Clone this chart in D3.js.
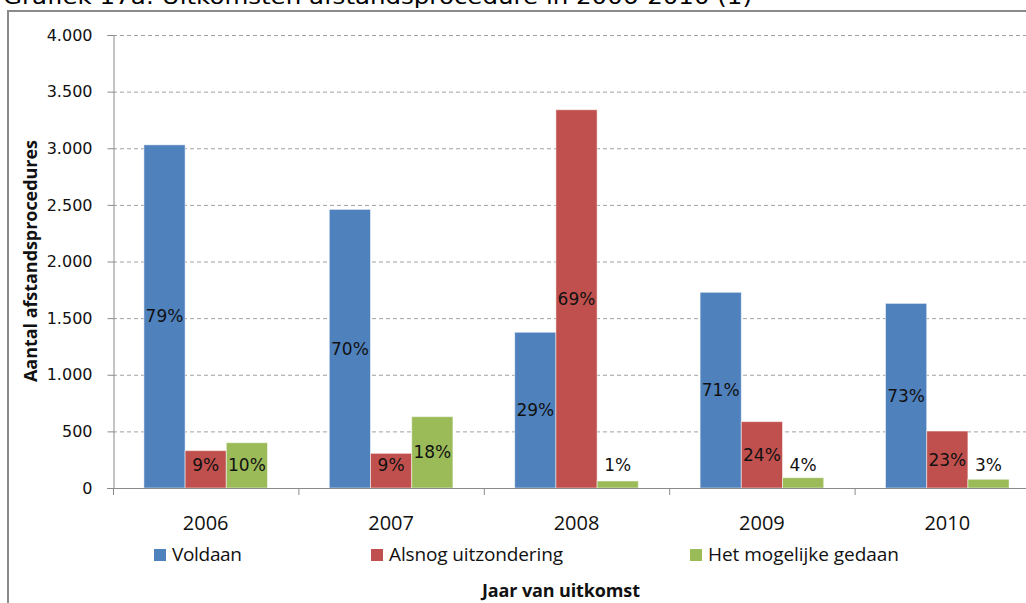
<html>
<head>
    <meta charset="utf-8">
    <title>Grafiek 17a</title>
    <script src="https://d3js.org/d3.v7.min.js"></script>
    <style>
        body{
            margin: 0;
            background: #fff;
        }
        svg{
            display: block;
        }
    </style>
</head>
<body>
    <svg></svg>
    <script>

        //chart data
        var years = ["2006", "2007", "2008", "2009", "2010"];
        var seriesNames = ["Voldaan", "Alsnog uitzondering", "Het mogelijke gedaan"];
        var voldaan = [3030, 2460, 1375, 1728, 1630];
        var alsnog = [330, 306, 3340, 586, 503];
        var mogelijk = [400, 630, 62, 91, 77];
        var pctVoldaan = ["79%", "70%", "29%", "71%", "73%"];
        var pctAlsnog = ["9%", "9%", "69%", "24%", "23%"];
        var pctMogelijk = ["10%", "18%", "1%", "4%", "3%"];
        var yTicks = [0, 500, 1000, 1500, 2000, 2500, 3000, 3500, 4000];
        var colors = ["#4F81BD", "#C0504D", "#9BBB59"];

        var values = [voldaan, alsnog, mogelijk];
        var labels = [pctVoldaan, pctAlsnog, pctMogelijk];

        //setup canvas
        var width = 1026;
        var height = 603;
        var svg = d3.select("svg").attr("width", width).attr("height", height);

        var nl = d3.formatLocale({decimal: ",", thousands: ".", grouping: [3], currency: ["€", ""]});

        //scales
        var x0 = d3.scaleBand().domain(years).range([113, 1040]).padding(0);
        var x1 = d3.scaleBand().domain(seriesNames).range([0, x0.bandwidth()]).paddingInner(0).paddingOuter(0.75);
        var y = d3.scaleLinear().domain([0, 4000]).range([488, 35]);

        //title, partly cut off at the top like in the source
        svg.append("text")
            .attr("x", 3).attr("y", 4)
            .attr("textLength", 749)
            .attr("lengthAdjust", "spacingAndGlyphs")
            .style("font-family", "DejaVu Sans")
            .style("font-size", "21px")
            .style("fill", "#000")
            .text("Grafiek 17a: Uitkomsten afstandsprocedure in 2006-2010 (1)");

        //frame
        svg.append("rect")
            .attr("x", 8).attr("y", 11)
            .attr("width", 1100).attr("height", 700)
            .style("fill", "none")
            .style("stroke", "#8a8a8a")
            .style("stroke-width", 2);

        //gridlines
        svg.append("g").selectAll("line")
            .data(yTicks.filter(function(d){ return d > 0; }))
            .enter().append("line")
            .attr("x1", 113).attr("x2", width)
            .attr("y1", function(d){ return y(d) + 0.5; })
            .attr("y2", function(d){ return y(d) + 0.5; })
            .style("stroke", "#a0a0a0")
            .style("stroke-dasharray", "4,3");

        //bars
        var groups = svg.append("g").selectAll("g")
            .data(years)
            .enter().append("g")
            .attr("transform", function(d){ return "translate(" + x0(d) + ",0)"; });

        function rows(d, i){
            return seriesNames.map(function(s, j){ return {s: s, j: j, v: values[j][i], l: labels[j][i]}; });
        }

        groups.selectAll("rect")
            .data(rows)
            .enter().append("rect")
            .attr("x", function(d){ return x1(d.s); })
            .attr("width", x1.bandwidth())
            .attr("y", function(d){ return y(d.v); })
            .attr("height", function(d){ return y(0) - y(d.v); })
            .style("fill", function(d){ return colors[d.j]; })
            .style("stroke", "rgba(255,255,255,0.5)")
            .style("stroke-width", 1);

        //data labels, centred but kept off the axis
        groups.selectAll("text")
            .data(rows)
            .enter().append("text")
            .attr("x", function(d){ return x1(d.s) + x1.bandwidth() / 2; })
            .attr("y", function(d){ return Math.min((y(d.v) + y(0)) / 2, 465); })
            .attr("text-anchor", "middle")
            .attr("dominant-baseline", "central")
            .style("font-family", "DejaVu Sans")
            .style("font-size", "17px")
            .style("fill", "#111")
            .text(function(d){ return d.l; });

        //y axis
        var yAxis = svg.append("g")
            .attr("transform", "translate(113.5,0)")
            .call(d3.axisLeft(y).tickValues(yTicks).tickSize(6).tickPadding(15).tickFormat(nl.format(",")));
        yAxis.selectAll("line").style("stroke", "#8a8a8a");
        yAxis.select(".domain").style("stroke", "#8a8a8a");
        yAxis.selectAll("text")
            .style("font-family", "DejaVu Sans")
            .style("font-size", "16px")
            .style("fill", "#111");

        //x axis line and boundary ticks
        svg.append("line")
            .attr("x1", 107).attr("x2", width)
            .attr("y1", y(0) + 0.5).attr("y2", y(0) + 0.5)
            .style("stroke", "#8a8a8a");
        svg.append("g").selectAll("line")
            .data(years)
            .enter().append("line")
            .attr("x1", function(d){ return x0(d) + 0.5; })
            .attr("x2", function(d){ return x0(d) + 0.5; })
            .attr("y1", y(0)).attr("y2", y(0) + 7)
            .style("stroke", "#8a8a8a");

        //x labels
        svg.append("g").selectAll("text")
            .data(years)
            .enter().append("text")
            .attr("x", function(d){ return x0(d) + x0.bandwidth() / 2; })
            .attr("y", 530)
            .attr("text-anchor", "middle")
            .style("font-family", "Open Sans")
            .style("font-size", "20px")
            .style("fill", "#111")
            .text(function(d){ return d; });

        //legend
        var legendX = [154, 371, 690];
        var legendW = [70, 174, 191];
        var legend = svg.append("g").selectAll("g")
            .data(seriesNames)
            .enter().append("g")
            .attr("transform", function(d, i){ return "translate(" + legendX[i] + ",549)"; });
        legend.append("rect")
            .attr("width", 12).attr("height", 12)
            .style("fill", function(d, i){ return colors[i]; });
        legend.append("text")
            .attr("x", 18).attr("y", 12)
            .attr("textLength", function(d, i){ return legendW[i]; })
            .style("font-family", "Open Sans")
            .style("font-size", "19px")
            .style("fill", "#111")
            .text(function(d){ return d; });

        //axis titles
        svg.append("text")
            .attr("transform", "translate(37,261) rotate(-90)")
            .attr("text-anchor", "middle")
            .attr("textLength", 242)
            .style("font-family", "Open Sans")
            .style("font-weight", "bold")
            .style("font-size", "18px")
            .style("fill", "#111")
            .text("Aantal afstandsprocedures");

        svg.append("text")
            .attr("x", 561).attr("y", 597)
            .attr("text-anchor", "middle")
            .attr("textLength", 158)
            .style("font-family", "Open Sans")
            .style("font-weight", "bold")
            .style("font-size", "18px")
            .style("fill", "#111")
            .text("Jaar van uitkomst");
    </script>
</body>
</html>
